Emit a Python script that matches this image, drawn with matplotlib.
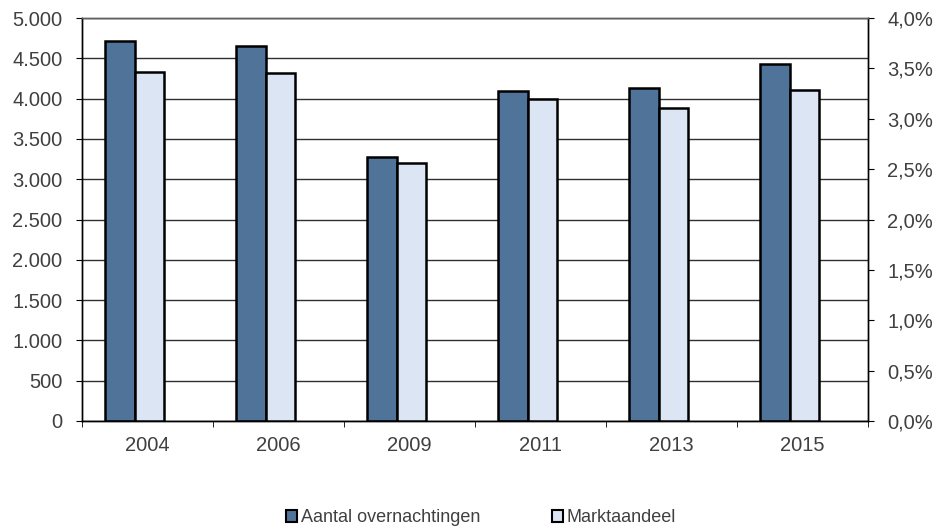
import numpy as np
import matplotlib.pyplot as plt
from matplotlib.ticker import FuncFormatter, MultipleLocator
from matplotlib.patches import Patch

plt.rcParams['font.family'] = ['Liberation Sans', 'DejaVu Sans']

# Data
years = ['2004', '2006', '2009', '2011', '2013', '2015']
overnachtingen = [4715, 4655, 3275, 4095, 4135, 4430]
marktaandeel = [3.46, 3.45, 2.56, 3.20, 3.11, 3.29]

dark = '#4f7399'
light = '#dce5f4'
txt = '#404040'

fig = plt.figure(figsize=(9.4, 5.29), dpi=100)
ax = fig.add_axes([82/940, 1 - 421/529, 786/940, 403/529])
ax2 = ax.twinx()

x = np.arange(len(years))
w = 0.225
ax.bar(x - 0.21, overnachtingen, w, color=dark, edgecolor='black', linewidth=1.8, zorder=3)
ax2.bar(x + 0.015, marktaandeel, w, color=light, edgecolor='black', linewidth=1.8, zorder=3)

ax.set_xlim(-0.5, len(years) - 0.5)
ax.set_ylim(0, 5000)
ax2.set_ylim(0, 4.0)
ax.yaxis.set_major_locator(MultipleLocator(500))
ax2.yaxis.set_major_locator(MultipleLocator(0.5))
ax.yaxis.set_major_formatter(FuncFormatter(lambda v, p: f'{int(v):,}'.replace(',', '.')))
ax2.yaxis.set_major_formatter(FuncFormatter(lambda v, p: f'{v:.1f}%'.replace('.', ',')))
ax.grid(axis='y', color='#303030', linewidth=1.0, zorder=0)
ax.set_axisbelow(True)

fs = 14.5
ax.set_xticks(x)
ax.set_xticklabels(years)
ax.set_xticks(np.arange(-0.5, len(years)), minor=True)
ax.tick_params(axis='x', which='major', length=0, pad=11, labelsize=fs, labelcolor=txt)
ax.tick_params(axis='x', which='minor', length=4, direction='out', color='black')
ax.tick_params(axis='y', length=4, direction='out', labelsize=fs, labelcolor=txt, pad=10)
ax2.tick_params(axis='y', length=4, direction='out', labelsize=fs, labelcolor=txt, pad=10)

for a in (ax, ax2):
    a.spines['top'].set_color('#606060')
    a.spines['left'].set_color('black')
    a.spines['right'].set_color('black')
    a.spines['bottom'].set_color('black')
    for s in a.spines.values():
        s.set_linewidth(1.0)

handles = [Patch(facecolor=dark, edgecolor='black', linewidth=1.5, label='Aantal overnachtingen'),
           Patch(facecolor=light, edgecolor='black', linewidth=1.5, label='Marktaandeel')]
fig.legend(handles=handles, loc='center', bbox_to_anchor=(481/940, 1 - 518/529), ncol=2,
           frameon=False, fontsize=13, handlelength=0.6, handleheight=0.6,
           handletextpad=0.2, columnspacing=4.0, labelcolor=txt)

fig.savefig('out.png', dpi=100)
